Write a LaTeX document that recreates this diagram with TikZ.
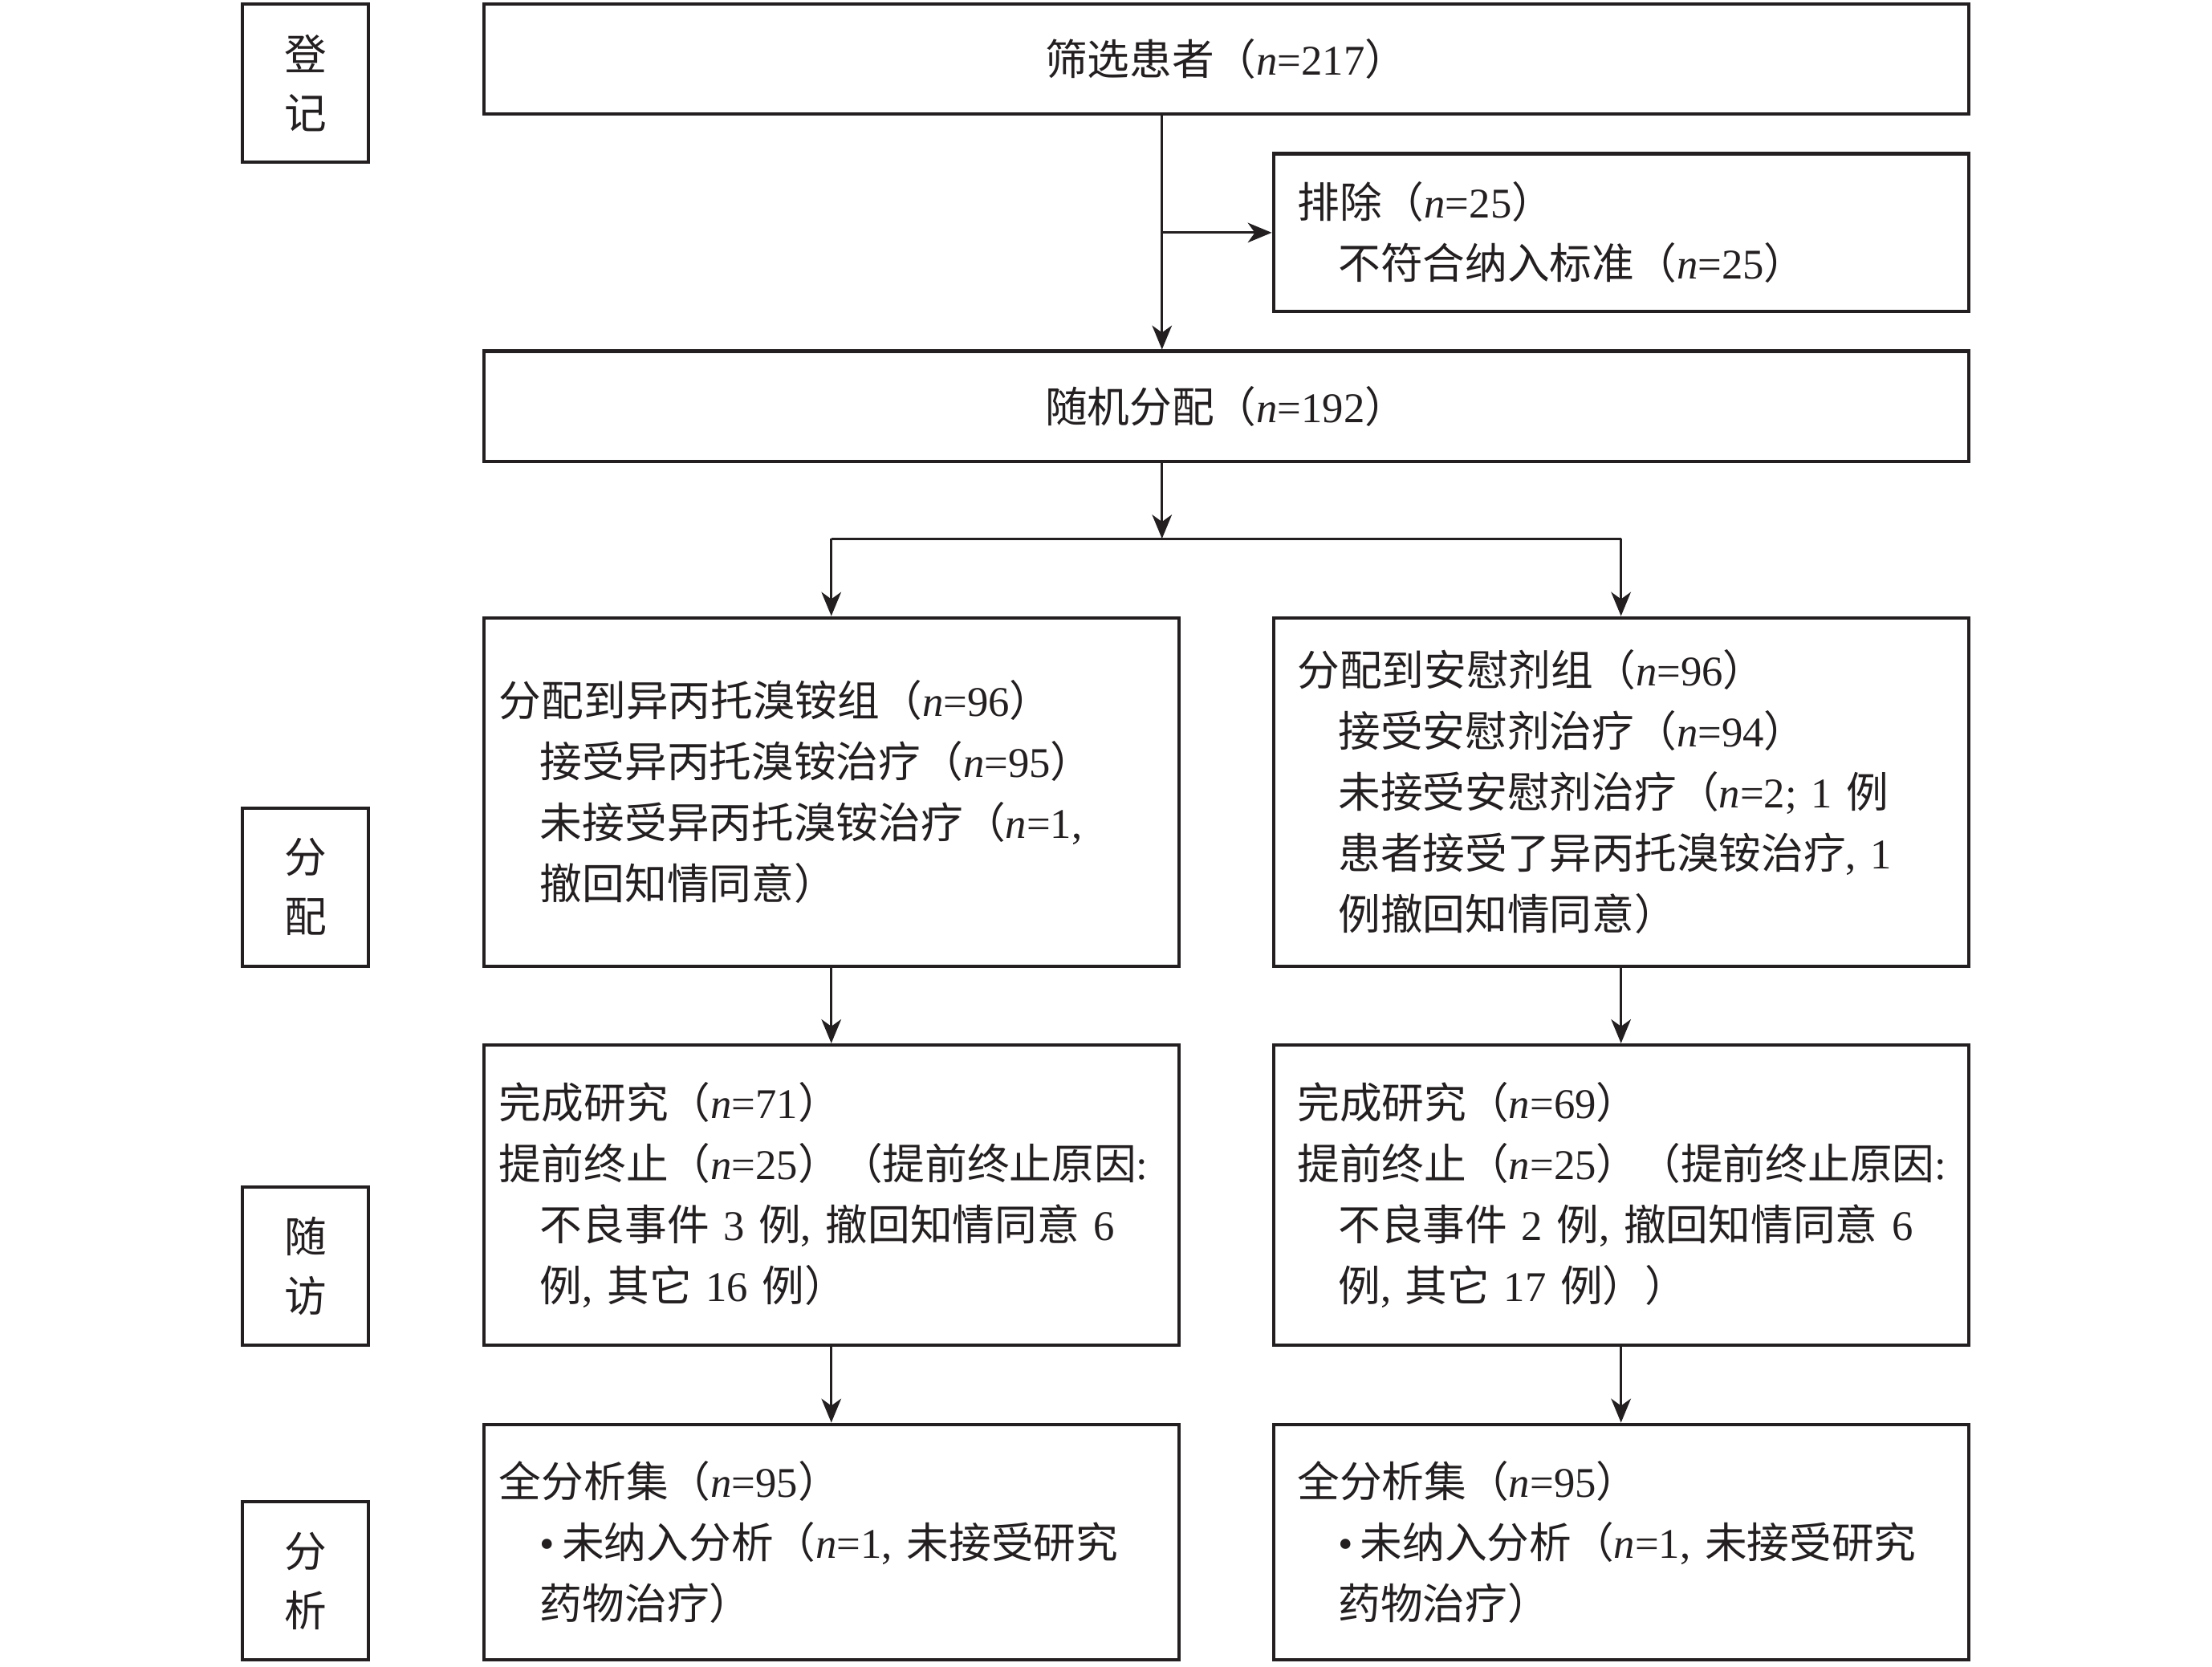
\documentclass[tikz,border=0pt]{standalone}
\usepackage{fontspec}
\setmainfont{Liberation Serif}
\newfontfamily\cjk{Noto Sans CJK SC}
\usetikzlibrary{arrows.meta}
\definecolor{ink}{HTML}{231F20}
\newcommand{\zh}[1]{{\cjk #1}}
\newcommand{\nn}{\textit{n}}
\newcommand{\ind}{\hspace*{29pt}}
\begin{document}
\begin{tikzpicture}[x=1pt,y=-1pt,
  every node/.style={font=\fontsize{30}{43.3}\selectfont, text=ink},
  box/.style={draw=ink, line width=2.3pt, rectangle, inner ysep=0pt},
  lab/.style={box, font=\fontsize{30}{42}\selectfont, minimum width=89pt, minimum height=112pt, inner xsep=0pt, align=center},
  wide/.style={box, minimum width=1053pt, minimum height=78pt, inner xsep=0pt, align=center},
  lbox/.style={box, text width=471pt, inner xsep=11pt, align=left},
  rbox/.style={box, text width=459pt, inner xsep=17pt, align=left},
  arr/.style={draw=ink, line width=1.7pt, -{Stealth[length=17pt,width=14pt,inset=5pt]}},
  conn/.style={draw=ink, line width=1.7pt}]
\useasboundingbox (0,0) rectangle (1568.6,1182.1);

% stage labels
\node[lab] (reg) at (216.5,59) {\zh{登}\\\zh{记}};
\node[lab] (alo) at (216.5,629) {\zh{分}\\\zh{配}};
\node[lab] (fol) at (216.5,898) {\zh{随}\\\zh{访}};
\node[lab] (ana) at (216.5,1121) {\zh{分}\\\zh{析}};

% main boxes
\node[wide] (screen) at (869.5,42) {\zh{筛选患者（}\nn=217\zh{）}};
\node[rbox, minimum height=112pt] (excl) at (1149.5,165)
  {\zh{排除（}\nn=25\zh{）}\\
   \ind\zh{不符合纳入标准（}\nn=25\zh{）}};
\node[wide] (rand) at (869.5,288) {\zh{随机分配（}\nn=192\zh{）}};

\node[lbox, minimum height=247pt] (a2l) at (589.5,561.5)
  {\zh{分配到异丙托溴铵组（}\nn=96\zh{）}\\
   \ind\zh{接受异丙托溴铵治疗（}\nn=95\zh{）}\\
   \ind\zh{未接受异丙托溴铵治疗（}\nn=1,\\
   \ind\zh{撤回知情同意）}};
\node[rbox, minimum height=247pt] (a2r) at (1149.5,561.5)
  {\zh{分配到安慰剂组（}\nn=96\zh{）}\\
   \ind\zh{接受安慰剂治疗（}\nn=94\zh{）}\\
   \ind\zh{未接受安慰剂治疗（}\nn=2; 1 \zh{例}\\
   \ind\zh{患者接受了异丙托溴铵治疗}, 1\\
   \ind\zh{例撤回知情同意）}};

\node[lbox, minimum height=213pt] (f3l) at (589.5,847.5)
  {\zh{完成研究（}\nn=71\zh{）}\\
   \zh{提前终止（}\nn=25\zh{）（提前终止原因}:\\
   \ind\zh{不良事件} 3 \zh{例}, \zh{撤回知情同意} 6\\
   \ind\zh{例}, \zh{其它} 16 \zh{例）}};
\node[rbox, minimum height=213pt] (f3r) at (1149.5,847.5)
  {\zh{完成研究（}\nn=69\zh{）}\\
   \zh{提前终止（}\nn=25\zh{）（提前终止原因}:\\
   \ind\zh{不良事件} 2 \zh{例}, \zh{撤回知情同意} 6\\
   \ind\zh{例}, \zh{其它} 17 \zh{例））}};

\node[lbox, minimum height=167pt] (s4l) at (589.5,1093.5)
  {\zh{全分析集（}\nn=95\zh{）}\\
   \ind\textbullet\,\zh{未纳入分析（}\nn=1, \zh{未接受研究}\\
   \ind\zh{药物治疗）}};
\node[rbox, minimum height=167pt] (s4r) at (1149.5,1093.5)
  {\zh{全分析集（}\nn=95\zh{）}\\
   \ind\textbullet\,\zh{未纳入分析（}\nn=1, \zh{未接受研究}\\
   \ind\zh{药物治疗）}};

% connectors
\coordinate (mx) at (824,0);
\coordinate (split) at (824,382);
\draw[arr] (screen.south -| mx) -- (rand.north -| mx);
\draw[arr] (excl.west -| mx) -- (excl.west);
\draw[arr] (rand.south -| mx) -- (split);
\draw[conn] (a2l.north |- split) -- (a2r.north |- split);
\draw[arr] (a2l.north |- split) -- (a2l.north);
\draw[arr] (a2r.north |- split) -- (a2r.north);
\draw[arr] (a2l.south) -- (f3l.north);
\draw[arr] (a2r.south) -- (f3r.north);
\draw[arr] (f3l.south) -- (s4l.north);
\draw[arr] (f3r.south) -- (s4r.north);
\end{tikzpicture}
\end{document}
